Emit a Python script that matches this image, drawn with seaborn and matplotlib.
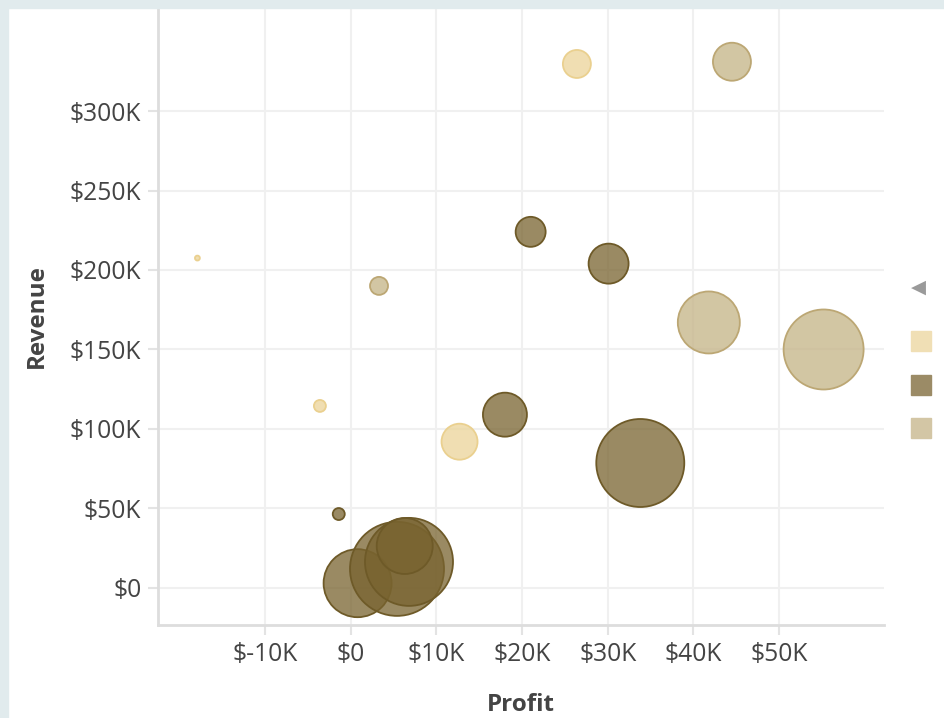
import matplotlib
matplotlib.use("Agg")
import matplotlib.pyplot as plt
import matplotlib.patches as mpatches
from matplotlib.lines import Line2D
from matplotlib.ticker import FuncFormatter
import seaborn as sns
import pandas as pd

# data (profit in $K, revenue in $K, bubble size)
segment = ["Consumer", "Consumer", "Consumer", "Consumer",
           "Corporate", "Corporate", "Corporate", "Corporate", "Corporate",
           "Corporate", "Corporate", "Corporate", "Corporate",
           "Home Office", "Home Office", "Home Office", "Home Office"]
profit = [-17.9, -3.6, 12.7, 26.4,
          -1.4, 0.8, 21.0, 30.1, 18.0, 33.8, 5.4, 6.8, 6.3,
          3.3, 44.5, 41.8, 55.2]
revenue = [207.5, 114.5, 92.0, 329.6,
           46.5, 3.0, 224.0, 204.0, 109.0, 78.6, 12.0, 16.4, 26.4,
           190.0, 331.0, 167.0, 150.0]
quantity = [6, 36, 324, 196,
            36, 1156, 225, 400, 484, 1936, 2209, 1936, 784,
            81, 361, 961, 1600]

categories = ["Consumer", "Corporate", "Home Office"]
face = {"Consumer": (0.922, 0.831, 0.596, 0.75),
        "Corporate": (0.471, 0.388, 0.184, 0.75),
        "Home Office": (0.769, 0.702, 0.522, 0.75)}
edge = {"Consumer": "#ead08f", "Corporate": "#6e5a28", "Home Office": "#bca774"}
legend_col = {"Consumer": "#f0dfb5", "Corporate": "#9b8b66", "Home Office": "#d3c6a5"}

df = pd.DataFrame({"Segment": segment, "Profit": profit,
                   "Revenue": revenue, "Quantity": quantity})

plt.rcParams["font.family"] = ["Open Sans", "DejaVu Sans"]
fig = plt.figure(figsize=(9.44, 7.18), dpi=100)
ax = fig.add_axes([158 / 944, (718 - 625) / 718, (884 - 158) / 944, (625 - 8) / 718])

for cat in categories:
    sub = df[df["Segment"] == cat]
    sns.scatterplot(data=sub, x="Profit", y="Revenue", size="Quantity",
                    size_norm=(0, 2500), sizes=(0, 2.0736 * 2500),
                    legend=False, ax=ax, zorder=3)
    coll = ax.collections[-1]
    coll.set_facecolor(face[cat])
    coll.set_edgecolor(edge[cat])
    coll.set_linewidth(1.3)

ax.set_xlim(-22.5, 62.25)
ax.set_ylim(-23.3, 364.8)
ax.set_xticks([-10, 0, 10, 20, 30, 40, 50])
ax.set_yticks([0, 50, 100, 150, 200, 250, 300])
ax.xaxis.set_major_formatter(FuncFormatter(lambda v, p: "$%dK" % v if v != 0 else "$0"))
ax.yaxis.set_major_formatter(FuncFormatter(lambda v, p: "$%dK" % v if v != 0 else "$0"))

ax.grid(True, color="#f0f0f0", linewidth=1.5, zorder=0)
ax.set_axisbelow(True)
for s in ["top", "right"]:
    ax.spines[s].set_visible(False)
for s in ["left", "bottom"]:
    ax.spines[s].set_color("#dddddd")
    ax.spines[s].set_linewidth(2)
ax.tick_params(axis="both", colors="#e3e3e3", length=7, width=1.5,
               labelsize=17.7, labelcolor="#444444", pad=5)

ax.set_xlabel("Profit", fontsize=17.5, fontweight="bold", color="#444444", labelpad=19)
ax.set_ylabel("Revenue", fontsize=17.5, fontweight="bold", color="#444444", labelpad=15)

# legend (labels cut off in the original)
handles = [Line2D([], [], marker="s", linestyle="", markersize=15,
                  markerfacecolor=legend_col[c], markeredgecolor=legend_col[c])
           for c in categories]
leg = fig.legend(handles, ["", "", ""], loc="upper left",
                 bbox_to_anchor=(906 / 944, 1 - 328 / 718), frameon=False,
                 labelspacing=2.06, handletextpad=0, borderpad=0, handlelength=1.2)
fig.text(918 / 944, 1 - 287 / 718, "\u25C0", color="#9a9a9a", fontsize=14,
         ha="center", va="center", family="DejaVu Sans")

# page frame
fig.patches.append(mpatches.Rectangle((0, 1 - 8 / 718), 1, 8 / 718, transform=fig.transFigure,
                                      color="#e1ebed", zorder=10))
fig.patches.append(mpatches.Rectangle((0, 0), 8 / 944, 1, transform=fig.transFigure,
                                      color="#e1ebed", zorder=10))

fig.savefig("out.png", dpi=100)
